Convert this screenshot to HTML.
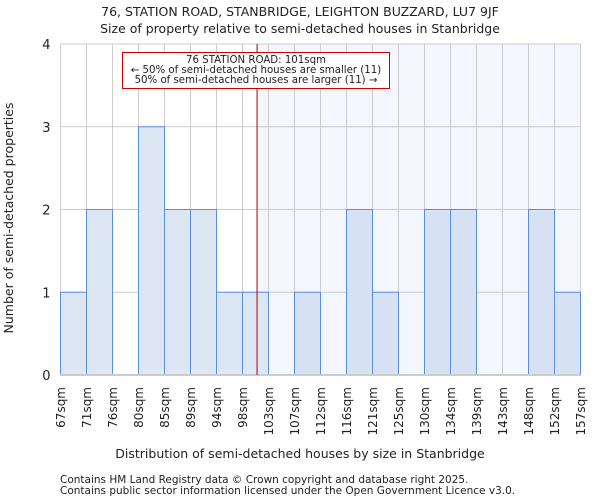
<!DOCTYPE html>
<html><head><meta charset="utf-8"><style>
body{margin:0;background:#fff;font-family:"DejaVu Sans","Liberation Sans",sans-serif;}
svg text{font-family:"DejaVu Sans","Liberation Sans",sans-serif;fill:#222;}
</style></head><body>
<svg id="c" width="600" height="500" xmlns="http://www.w3.org/2000/svg">
<text x="300" y="16" text-anchor="middle" font-size="12.5">76, STATION ROAD, STANBRIDGE, LEIGHTON BUZZARD, LU7 9JF</text>
<text x="300" y="33" text-anchor="middle" font-size="12.5">Size of property relative to semi-detached houses in Stanbridge</text>
<g id="plot"></g>
<text x="300" y="458" text-anchor="middle" font-size="12.5">Distribution of semi-detached houses by size in Stanbridge</text>
<text transform="translate(13,218) rotate(-90)" text-anchor="middle" font-size="12.5">Number of semi-detached properties</text>
<text x="60" y="483" font-size="10.5">Contains HM Land Registry data © Crown copyright and database right 2025.</text>
<text x="60" y="494" font-size="10.5">Contains public sector information licensed under the Open Government Licence v3.0.</text>
</svg>
<script>
const labels=["67sqm","71sqm","76sqm","80sqm","85sqm","89sqm","94sqm","98sqm","103sqm","107sqm","112sqm","116sqm","121sqm","125sqm","130sqm","134sqm","139sqm","143sqm","148sqm","152sqm","157sqm"];
const counts=[1,2,0,3,2,2,1,1,0,1,0,2,1,0,2,2,0,0,2,1];
const yTicks=[0,1,2,3,4];
const markerBin=7.56;
const NS="http://www.w3.org/2000/svg";
const g=document.getElementById('plot');
const L=60.5,R=580.5,T=44,B=375,yMax=4;
const bw=(R-L)/counts.length;
const xs=i=>L+i*bw;
const ys=v=>B-(B-T)*v/yMax;
function mk(t,a,p){const e=document.createElementNS(NS,t);for(const k in a)e.setAttribute(k,a[k]);(p||g).appendChild(e);return e;}
const mx=xs(markerBin);
const sh=mk('rect',{x:mx,y:T,width:R-mx,height:B-T,fill:'#f3f6fd'});


for(let i=0;i<=counts.length;i++){const l=mk('line',{x1:xs(i),x2:xs(i),y1:T,y2:B,stroke:'#cccccc','stroke-width':1});

}
yTicks.forEach(v=>{const l=mk('line',{x1:L,x2:R,y1:ys(v),y2:ys(v),stroke:'#cccccc','stroke-width':1});


const t=mk('text',{x:L-10,y:ys(v)+5,'text-anchor':'end','font-size':13});t.textContent=v;

});
counts.forEach((c,i)=>{if(!c)return;const r=mk('rect',{x:xs(i),y:ys(c),width:bw,height:B-ys(c),fill:i>=8?'#d6e1f3':'#dde6f3',stroke:'#5b8fd9','stroke-width':1});

});
labels.forEach((s,i)=>{const t=mk('text',{transform:`translate(${xs(i)+4.5},387) rotate(-90)`,'text-anchor':'end','font-size':12});t.textContent=s;

});
const ax=mk('line',{x1:L,x2:R,y1:B,y2:B,stroke:'#cccccc','stroke-width':2});


const ml=mk('line',{x1:mx,x2:mx,y1:T,y2:B,stroke:'#aa0000','stroke-width':1});


const box=mk('rect',{x:122.5,y:52.5,width:267,height:36,fill:'#fff',stroke:'#cc0000','stroke-width':1});


["76 STATION ROAD: 101sqm","← 50% of semi-detached houses are smaller (11)","50% of semi-detached houses are larger (11) →"].forEach((s,k)=>{const t=mk('text',{x:256,y:63+k*10,'text-anchor':'middle','font-size':10.2});t.textContent=s;

});
</script>
</body></html>
